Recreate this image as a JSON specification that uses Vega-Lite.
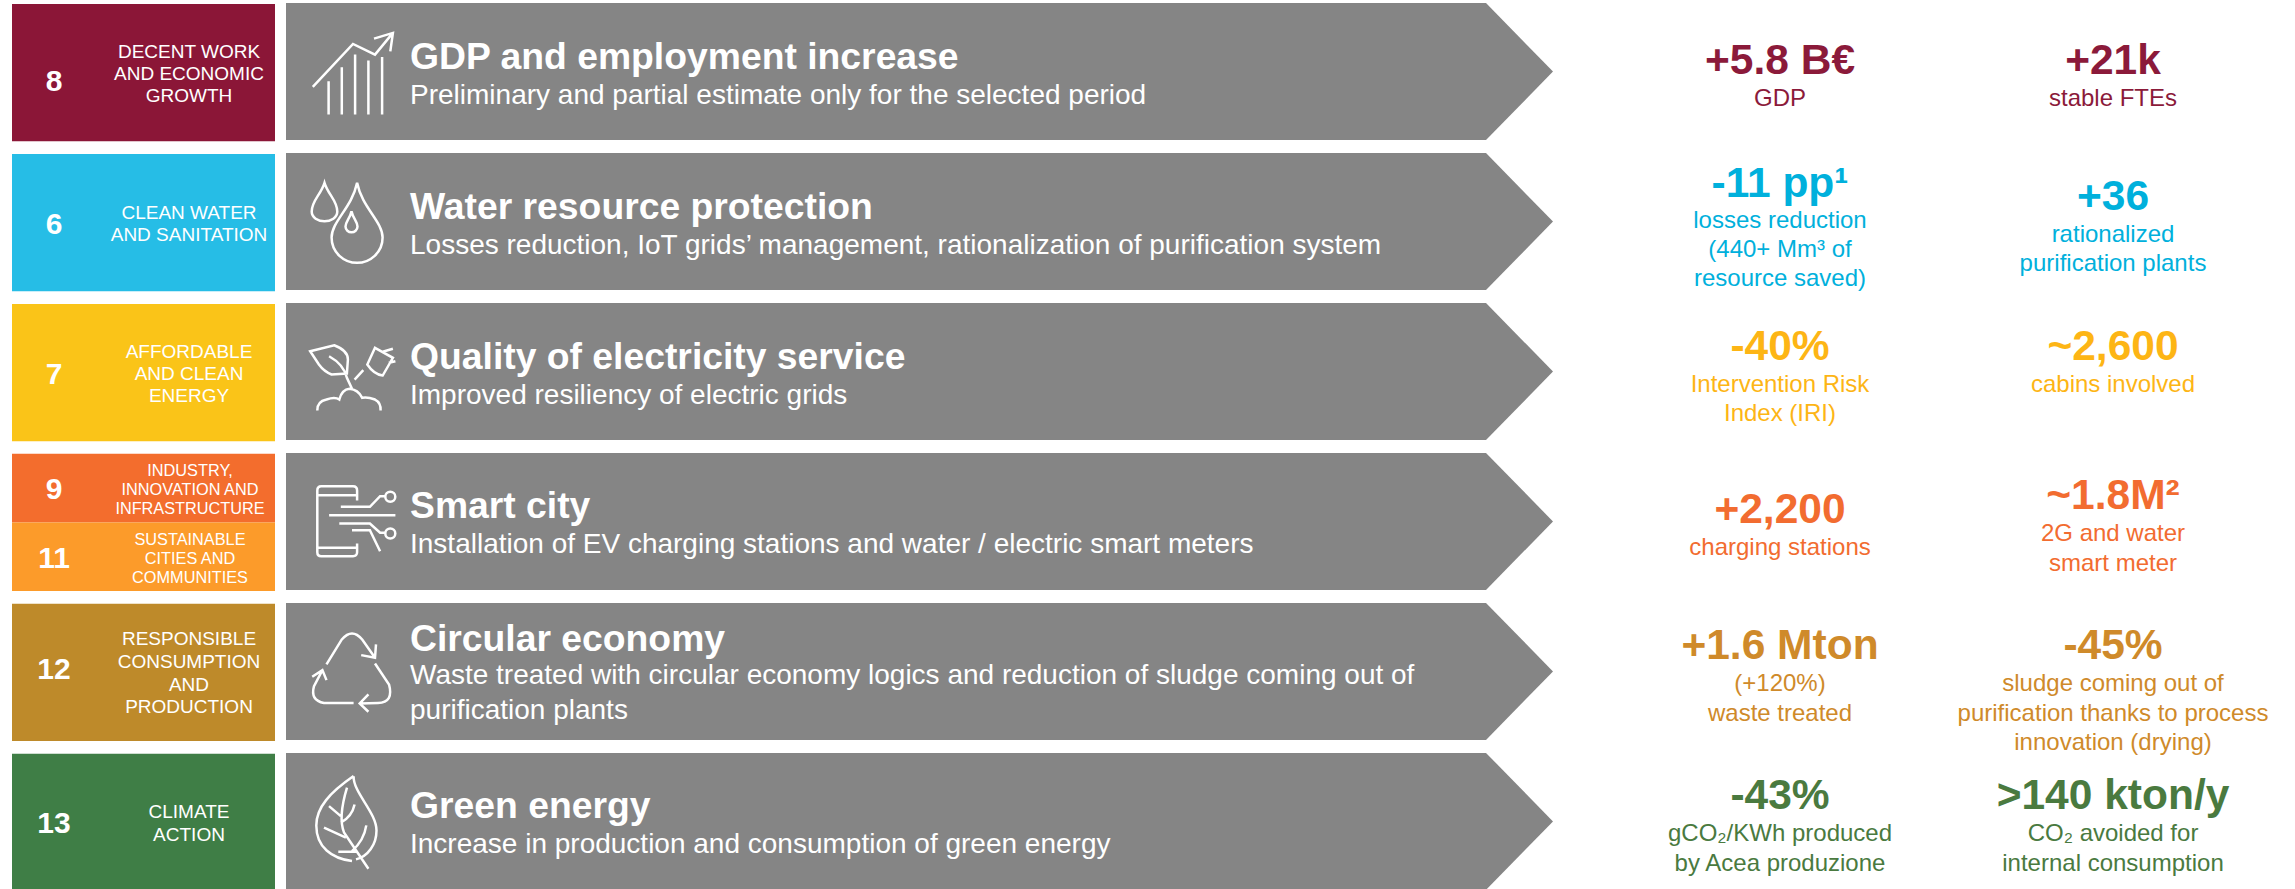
{"$schema":"https://vega.github.io/schema/vega-lite/v6.json","width":2295,"height":889,"padding":0,"autosize":{"type":"none"},"background":"white","config":{"view":{"stroke":null},"font":"Liberation Sans"},
"datasets":{
"themes":[
{"row":1,"icon":"growth","title":"GDP and employment increase","subtitle":"Preliminary and partial estimate only for the selected period"},
{"row":2,"icon":"water","title":"Water resource protection","subtitle":"Losses reduction, IoT grids’ management, rationalization of purification system"},
{"row":3,"icon":"power","title":"Quality of electricity service","subtitle":"Improved resiliency of electric grids"},
{"row":4,"icon":"smart","title":"Smart city","subtitle":"Installation of EV charging stations and water / electric smart meters"},
{"row":5,"icon":"recycle","title":"Circular economy","subtitle":"Waste treated with circular economy logics and reduction of sludge coming out of\npurification plants"},
{"row":6,"icon":"leaf","title":"Green energy","subtitle":"Increase in production and consumption of green energy"}],
"goals":[
{"row":1,"goal":"8","name":"DECENT WORK\nAND ECONOMIC\nGROWTH"},
{"row":2,"goal":"6","name":"CLEAN WATER\nAND SANITATION"},
{"row":3,"goal":"7","name":"AFFORDABLE\nAND CLEAN\nENERGY"},
{"row":4,"goal":"9","part":"upper","name":"INDUSTRY,\nINNOVATION AND\nINFRASTRUCTURE"},
{"row":4,"goal":"11","part":"lower","name":"SUSTAINABLE\nCITIES AND\nCOMMUNITIES"},
{"row":5,"goal":"12","name":"RESPONSIBLE\nCONSUMPTION\nAND\nPRODUCTION"},
{"row":6,"goal":"13","name":"CLIMATE\nACTION"}],
"kpis":[
{"row":1,"goal":"8","col":"first","stack":"low","value":"+5.8 B€","desc":"GDP"},
{"row":1,"goal":"8","col":"second","stack":"low","value":"+21k","desc":"stable FTEs"},
{"row":2,"goal":"6","col":"first","stack":"high","value":"-11 pp¹","desc":"losses reduction\n(440+ Mm³ of\nresource saved)"},
{"row":2,"goal":"6","col":"second","stack":"mid","value":"+36","desc":"rationalized\npurification plants"},
{"row":3,"goal":"7","col":"first","stack":"mid","value":"-40%","desc":"Intervention Risk\nIndex (IRI)"},
{"row":3,"goal":"7","col":"second","stack":"mid","value":"~2,600","desc":"cabins involved"},
{"row":4,"goal":"9","col":"first","stack":"low","value":"+2,200","desc":"charging stations"},
{"row":4,"goal":"9","col":"second","stack":"mid","value":"~1.8M²","desc":"2G and water\nsmart meter"},
{"row":5,"goal":"12","col":"first","stack":"mid","value":"+1.6 Mton","desc":"(+120%)\nwaste treated"},
{"row":5,"goal":"12","col":"second","stack":"mid","value":"-45%","desc":"sludge coming out of\npurification thanks to process\ninnovation (drying)"},
{"row":6,"goal":"13","col":"first","stack":"mid","value":"-43%","desc":"gCO₂/KWh produced\nby Acea produzione"},
{"row":6,"goal":"13","col":"second","stack":"mid","value":">140 kton/y","desc":"CO₂ avoided for\ninternal consumption"}]},
"encoding":{"y":{"field":"row","type":"ordinal","scale":{"type":"band","domain":[1,2,3,4,5,6],"range":[4,891],"paddingInner":0.085,"paddingOuter":0},"axis":null}},
"resolve":{"scale":{"x":"independent","color":"independent","shape":"independent"}},
"layer":[
{"data":{"name":"goals"},"transform":[{"filter":"!datum.part"}],"mark":{"type":"bar"},"encoding":{"x":{"datum":12,"type":"quantitative","scale":{"domain":[0,2295],"range":[0,2295]},"axis":null},"x2":{"datum":275},"color":{"field":"goal","type":"nominal","legend":null,"scale":{"domain":["8","6","7","12","13"],"range":["#8B1637","#26BDE6","#FAC418","#BE8A2A","#3F7E46"]}}}},
{"data":{"name":"goals"},"transform":[{"filter":"datum.part"}],"mark":{"type":"bar"},"encoding":{"x":{"datum":12,"type":"quantitative","scale":{"domain":[0,2295],"range":[0,2295]},"axis":null},"x2":{"datum":275},"yOffset":{"field":"part","type":"nominal","scale":{"domain":["upper","lower"],"paddingInner":0,"paddingOuter":0}},"color":{"field":"goal","type":"nominal","legend":null,"scale":{"domain":["9","11"],"range":["#F36D2D","#FC9B2A"]}}}},
{"data":{"name":"goals"},"transform":[{"filter":"datum.row==1"}],"mark":{"type":"text","color":"white","fontSize":30,"fontWeight":"bold","dy":9},"encoding":{"x":{"datum":54,"type":"quantitative","scale":{"domain":[0,2295],"range":[0,2295]},"axis":null},"text":{"field":"goal","type":"nominal"}}},
{"data":{"name":"goals"},"transform":[{"filter":"datum.row==5"}],"mark":{"type":"text","color":"white","fontSize":30,"fontWeight":"bold","dy":-2},"encoding":{"x":{"datum":54,"type":"quantitative","scale":{"domain":[0,2295],"range":[0,2295]},"axis":null},"text":{"field":"goal","type":"nominal"}}},
{"data":{"name":"goals"},"transform":[{"filter":"datum.row==2||datum.row==3||datum.row==6"}],"mark":{"type":"text","color":"white","fontSize":30,"fontWeight":"bold","dy":2},"encoding":{"x":{"datum":54,"type":"quantitative","scale":{"domain":[0,2295],"range":[0,2295]},"axis":null},"text":{"field":"goal","type":"nominal"}}},
{"data":{"name":"goals"},"transform":[{"filter":"datum.part"}],"mark":{"type":"text","color":"white","fontSize":30,"fontWeight":"bold","dy":2},"encoding":{"x":{"datum":54,"type":"quantitative","scale":{"domain":[0,2295],"range":[0,2295]},"axis":null},"yOffset":{"field":"part","type":"nominal","scale":{"domain":["upper","lower"],"paddingInner":0,"paddingOuter":0}},"text":{"field":"goal","type":"nominal"}}},
{"data":{"name":"goals"},"transform":[{"filter":"datum.row==1||datum.row==3"}],"mark":{"type":"text","color":"white","fontSize":19,"lineHeight":22.3,"lineBreak":"\n","dy":-21},"encoding":{"x":{"datum":189,"type":"quantitative","scale":{"domain":[0,2295],"range":[0,2295]},"axis":null},"text":{"field":"name","type":"nominal"}}},
{"data":{"name":"goals"},"transform":[{"filter":"datum.row==2||datum.row==6"}],"mark":{"type":"text","color":"white","fontSize":19,"lineHeight":22.3,"lineBreak":"\n","dy":-10},"encoding":{"x":{"datum":189,"type":"quantitative","scale":{"domain":[0,2295],"range":[0,2295]},"axis":null},"text":{"field":"name","type":"nominal"}}},
{"data":{"name":"goals"},"transform":[{"filter":"datum.row==5"}],"mark":{"type":"text","color":"white","fontSize":19,"lineHeight":22.6,"lineBreak":"\n","dy":-33},"encoding":{"x":{"datum":189,"type":"quantitative","scale":{"domain":[0,2295],"range":[0,2295]},"axis":null},"text":{"field":"name","type":"nominal"}}},
{"data":{"name":"goals"},"transform":[{"filter":"datum.part"}],"mark":{"type":"text","color":"white","fontSize":16.3,"lineHeight":19,"lineBreak":"\n","dy":-17},"encoding":{"x":{"datum":190,"type":"quantitative","scale":{"domain":[0,2295],"range":[0,2295]},"axis":null},"yOffset":{"field":"part","type":"nominal","scale":{"domain":["upper","lower"],"paddingInner":0,"paddingOuter":0}},"text":{"field":"name","type":"nominal"}}},
{"data":{"name":"themes"},"mark":{"type":"point","filled":true,"color":"#858585","opacity":1,"size":4,"strokeWidth":0},"encoding":{"x":{"datum":920,"type":"quantitative","scale":{"domain":[0,2295],"range":[0,2295]},"axis":null},"shape":{"datum":"arrow","type":"nominal","scale":{"domain":["arrow"],"range":["M-634 -69.5H566L633 -1L566 67.5H-634Z"]},"legend":null}}},
{"data":{"name":"themes"},"mark":{"type":"point","filled":false,"color":"white","opacity":1,"size":4,"strokeWidth":2.5},"encoding":{"x":{"datum":352,"type":"quantitative","scale":{"domain":[0,2295],"range":[0,2295]},"axis":null},"shape":{"field":"icon","type":"nominal","legend":null,"scale":{"domain":["growth","water","power","smart","recycle","leaf"],"range":[
"M-23.4 42V8.7M-10.2 42V-5.3M3.1 42V-18M16.4 42V-12M30.1 42V-15.7M-39.2 14.3L1 -28.7L23 -18L40.9 -39.7M22 -34L40.9 -39.7L38.3 -21.3",
"M-27.5 -39.7C-31 -28 -40.3 -22 -40.3 -11C-40.3 -5 -34 -1.3 -27.5 -1.3C-21 -1.3 -14.7 -5 -14.7 -11C-14.7 -22 -24 -28 -27.5 -39.7ZM5.1 -39.7C0 -15 -20.4 -1 -20.4 15C-20.4 30 -8 40.3 5.1 40.3C18 40.3 30.6 30 30.6 15C30.6 -1 10 -15 5.1 -39.7ZM-0.5 -11.3C-2 -4 -6.5 -1 -6.5 4C-6.5 7.5 -3.5 9.7 -0.5 9.7C2.5 9.7 5.5 7.5 5.5 4C5.5 -1 1 -4 -0.5 -11.3Z",
"M-41.8 -21.3L-17.8 -27.3Q-4 -22 -4.1 -13L-5.1 1L-20.4 2Q-28 -1 -33.1 -8ZM-22.9 -16.3Q-8 -8 -5.1 5.3L0 16.3M-34.7 38Q-35 29 -25.5 27Q-17 24 -12.7 27Q-10 17 -2.5 16.3Q6 17 10.2 25.3Q15 24 23 27Q29 30 28.6 38M23 -24.7L40.9 -14.7L30.7 3Q22 2 15.3 -8ZM30.7 -20.7L40.9 -23.7M36.8 -9.7L43.4 -11.3M2.6 7L11.3 -2.3",
"M5.1 -22V-32Q5.1 -36.3 1 -36.3H-30.7Q-34.7 -36.3 -34.7 -32V29.7Q-34.7 33.7 -30.7 33.7H1Q5.1 33.7 5.1 29.7V21M-34.7 -27.3H5.1M-34.7 25.3H5.1M-11.2 -15.7H17.9L28.1 -26.3H33.2M33.3 -25.7a5 5 0 1 0 10 0a5 5 0 1 0 -10 0M-22.9 -7.3H43.4M-12.7 1H17.9L28.1 10.3H33.2M33.3 11a5 5 0 1 0 10 0a5 5 0 1 0 -10 0M0 7.7H17.9L28.1 28.7",
"M-25.5 -8L-10.2 -33Q0 -45 10.2 -33L23 -14.7M9.2 -17.3L23 -14.7L24 -28M23 -9L37 12Q42 30 26 30.5L7.7 31M16.4 22L7.7 31L16.4 39.3M1.6 30.5H-28Q-42 28 -38 13.7L-29.6 -2.3M-39.8 4.3L-29.6 -2.3L-25.5 7.7",
"M1.6 -46.3C-22 -30 -35.7 -15 -35.7 3C-35.7 25 -20 36 0 38.7M1.6 -46.3C1 -30 24.5 -10 24.5 8C24.5 22 16 34 4 37M-5 -34.7Q-14 -5 -8 10L16.4 46.3M-23 -16.3L-11.2 -6.3M2.6 -18Q0 -6 -11.2 0.3M-28 5.3L-6.1 15.3M14.3 3Q12 18 0 28.7M-13.7 29.3H5"]}}}},
{"data":{"name":"themes"},"transform":[{"filter":"datum.row!=5"}],"mark":{"type":"text","color":"white","align":"left","fontSize":37.3,"fontWeight":"bold","dy":-15},"encoding":{"x":{"datum":410,"type":"quantitative","scale":{"domain":[0,2295],"range":[0,2295]},"axis":null},"text":{"field":"title","type":"nominal"}}},
{"data":{"name":"themes"},"transform":[{"filter":"datum.row==5"}],"mark":{"type":"text","color":"white","align":"left","fontSize":37.3,"fontWeight":"bold","dy":-32},"encoding":{"x":{"datum":410,"type":"quantitative","scale":{"domain":[0,2295],"range":[0,2295]},"axis":null},"text":{"field":"title","type":"nominal"}}},
{"data":{"name":"themes"},"transform":[{"filter":"datum.row!=5"}],"mark":{"type":"text","color":"white","align":"left","fontSize":28,"dy":23},"encoding":{"x":{"datum":410,"type":"quantitative","scale":{"domain":[0,2295],"range":[0,2295]},"axis":null},"text":{"field":"subtitle","type":"nominal"}}},
{"data":{"name":"themes"},"transform":[{"filter":"datum.row==5"}],"mark":{"type":"text","color":"white","align":"left","fontSize":28,"lineHeight":35,"lineBreak":"\n","dy":4},"encoding":{"x":{"datum":410,"type":"quantitative","scale":{"domain":[0,2295],"range":[0,2295]},"axis":null},"text":{"field":"subtitle","type":"nominal"}}},
{"data":{"name":"kpis"},"transform":[{"filter":"datum.stack=='low'"}],"mark":{"type":"text","fontSize":42.5,"fontWeight":"bold","dy":-12},"encoding":{"x":{"field":"col","type":"nominal","scale":{"type":"point","padding":0,"domain":["first","second"],"range":[1780,2113]},"axis":null},"text":{"field":"value","type":"nominal"},"color":{"field":"goal","type":"nominal","legend":null,"scale":{"domain":["8","6","7","9","12","13"],"range":["#8B1A3A","#00B0DC","#FDB515","#F26C30","#CF8A2A","#4A7A3F"]}}}},
{"data":{"name":"kpis"},"transform":[{"filter":"datum.stack=='mid'"}],"mark":{"type":"text","fontSize":42.5,"fontWeight":"bold","dy":-26},"encoding":{"x":{"field":"col","type":"nominal","scale":{"type":"point","padding":0,"domain":["first","second"],"range":[1780,2113]},"axis":null},"text":{"field":"value","type":"nominal"},"color":{"field":"goal","type":"nominal","legend":null,"scale":{"domain":["8","6","7","9","12","13"],"range":["#8B1A3A","#00B0DC","#FDB515","#F26C30","#CF8A2A","#4A7A3F"]}}}},
{"data":{"name":"kpis"},"transform":[{"filter":"datum.stack=='high'"}],"mark":{"type":"text","fontSize":42.5,"fontWeight":"bold","dy":-39},"encoding":{"x":{"field":"col","type":"nominal","scale":{"type":"point","padding":0,"domain":["first","second"],"range":[1780,2113]},"axis":null},"text":{"field":"value","type":"nominal"},"color":{"field":"goal","type":"nominal","legend":null,"scale":{"domain":["8","6","7","9","12","13"],"range":["#8B1A3A","#00B0DC","#FDB515","#F26C30","#CF8A2A","#4A7A3F"]}}}},
{"data":{"name":"kpis"},"transform":[{"filter":"datum.stack=='low'"}],"mark":{"type":"text","fontSize":24,"lineHeight":29.3,"lineBreak":"\n","baseline":"top","dy":14},"encoding":{"x":{"field":"col","type":"nominal","scale":{"type":"point","padding":0,"domain":["first","second"],"range":[1780,2113]},"axis":null},"text":{"field":"desc","type":"nominal"},"color":{"field":"goal","type":"nominal","legend":null,"scale":{"domain":["8","6","7","9","12","13"],"range":["#8B1A3A","#00B0DC","#FDB515","#F26C30","#CF8A2A","#4A7A3F"]}}}},
{"data":{"name":"kpis"},"transform":[{"filter":"datum.stack=='mid'"}],"mark":{"type":"text","fontSize":24,"lineHeight":29.3,"lineBreak":"\n","baseline":"top","dy":0},"encoding":{"x":{"field":"col","type":"nominal","scale":{"type":"point","padding":0,"domain":["first","second"],"range":[1780,2113]},"axis":null},"text":{"field":"desc","type":"nominal"},"color":{"field":"goal","type":"nominal","legend":null,"scale":{"domain":["8","6","7","9","12","13"],"range":["#8B1A3A","#00B0DC","#FDB515","#F26C30","#CF8A2A","#4A7A3F"]}}}},
{"data":{"name":"kpis"},"transform":[{"filter":"datum.stack=='high'"}],"mark":{"type":"text","fontSize":24,"lineHeight":29.3,"lineBreak":"\n","baseline":"top","dy":-14},"encoding":{"x":{"field":"col","type":"nominal","scale":{"type":"point","padding":0,"domain":["first","second"],"range":[1780,2113]},"axis":null},"text":{"field":"desc","type":"nominal"},"color":{"field":"goal","type":"nominal","legend":null,"scale":{"domain":["8","6","7","9","12","13"],"range":["#8B1A3A","#00B0DC","#FDB515","#F26C30","#CF8A2A","#4A7A3F"]}}}}
]}
